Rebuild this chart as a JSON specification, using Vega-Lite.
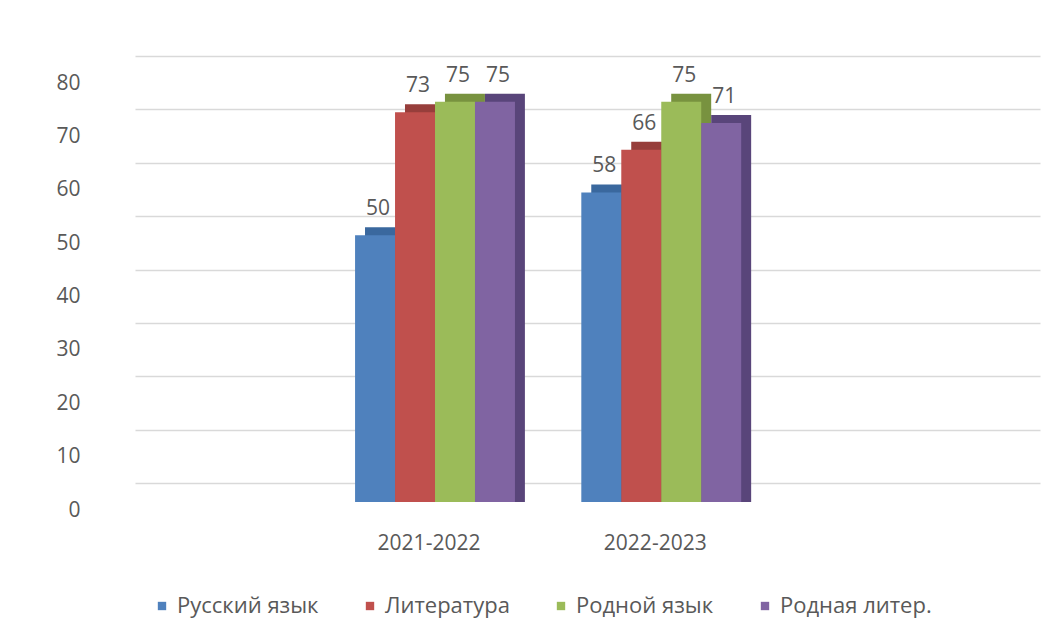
{
  "$schema": "https://vega.github.io/schema/vega-lite/v6.json",
  "width": 905,
  "height": 427,
  "autosize": "none",
  "padding": {"left": 135, "top": 75, "right": 14, "bottom": 142},
  "background": "white",
  "data": {
    "values": [
      {"year": "2021-2022", "subject": "Русский язык", "value": 50},
      {"year": "2021-2022", "subject": "Литература", "value": 73},
      {"year": "2021-2022", "subject": "Родной язык", "value": 75},
      {"year": "2021-2022", "subject": "Родная литер.", "value": 75},
      {"year": "2022-2023", "subject": "Русский язык", "value": 58},
      {"year": "2022-2023", "subject": "Литература", "value": 66},
      {"year": "2022-2023", "subject": "Родной язык", "value": 75},
      {"year": "2022-2023", "subject": "Родная литер.", "value": 71}
    ]
  },
  "config": {
    "view": {"stroke": null},
    "font": "Open Sans"
  },
  "encoding": {
    "x": {
      "field": "year",
      "type": "nominal",
      "scale": {"paddingInner": 0, "paddingOuter": 1, "align": 0.413},
      "axis": {
        "title": null,
        "labelAngle": 0,
        "domain": false,
        "ticks": false,
        "grid": false,
        "labelPadding": 30,
        "labelFontSize": 21,
        "labelColor": "#595959",
        "labelOffset": -6
      }
    },
    "y": {
      "field": "value",
      "type": "quantitative",
      "stack": null,
      "scale": {"domain": [0, 80]},
      "axis": {
        "title": null,
        "values": [0, 10, 20, 30, 40, 50, 60, 70, 80],
        "grid": true,
        "gridColor": "#d9d9d9",
        "gridWidth": 1.5,
        "tickOffset": -19,
        "labelOffset": 27,
        "domain": false,
        "ticks": false,
        "labelPadding": 55,
        "labelFontSize": 21,
        "labelColor": "#595959"
      }
    }
  },
  "layer": [
    {
      "mark": {"type": "bar", "yOffset": -8, "y2Offset": -8},
      "encoding": {
        "xOffset": {
          "field": "subject",
          "type": "nominal",
          "sort": ["Русский язык", "Литература", "Родной язык", "Родная литер."],
          "scale": {"type": "band", "paddingInner": 0, "paddingOuter": 0.83, "align": 0.65}
        },
        "color": {
          "field": "subject",
          "type": "nominal",
          "scale": {
            "domain": ["Русский язык", "Литература", "Родной язык", "Родная литер."],
            "range": ["#3a689e", "#973e3b", "#78923f", "#59457a"]
          },
          "legend": null
        }
      }
    },
    {
      "mark": {"type": "bar"},
      "encoding": {
        "xOffset": {
          "field": "subject",
          "type": "nominal",
          "sort": ["Русский язык", "Литература", "Родной язык", "Родная литер."],
          "scale": {"type": "band", "paddingInner": 0, "paddingOuter": 0.83}
        },
        "color": {
          "field": "subject",
          "type": "nominal",
          "scale": {
            "domain": ["Русский язык", "Литература", "Родной язык", "Родная литер."],
            "range": ["#4f81bd", "#c0504d", "#9bbb59", "#8064a2"]
          },
          "legend": {
            "orient": "none",
            "legendX": 16,
            "legendY": 520,
            "direction": "horizontal",
            "title": null,
            "symbolType": "square",
            "symbolSize": 70,
            "symbolStrokeWidth": 0,
            "labelFontSize": 22,
            "labelColor": "#595959",
            "columnPadding": 40
          }
        }
      }
    },
    {
      "mark": {"type": "text", "baseline": "alphabetic", "dy": -20, "dx": 3, "fontSize": 21, "color": "#595959"},
      "encoding": {
        "xOffset": {
          "field": "subject",
          "type": "nominal",
          "sort": ["Русский язык", "Литература", "Родной язык", "Родная литер."],
          "scale": {"type": "band", "paddingInner": 0, "paddingOuter": 0.83}
        },
        "text": {"field": "value", "type": "quantitative"}
      }
    }
  ],
  "resolve": {"scale": {"color": "independent", "xOffset": "independent"}}
}
